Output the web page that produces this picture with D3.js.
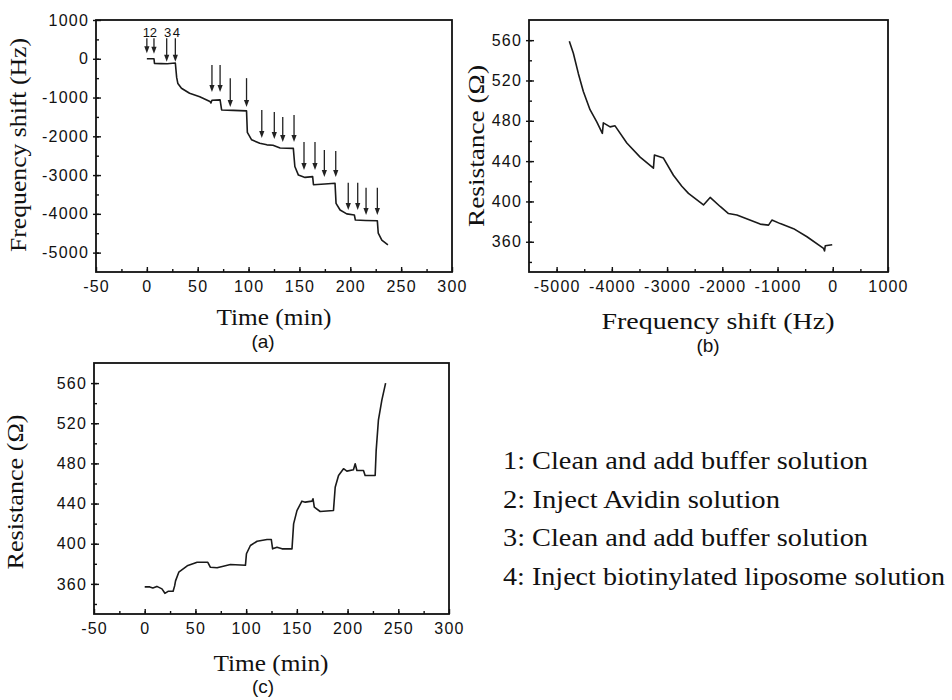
<!DOCTYPE html>
<html>
<head>
<meta charset="utf-8">
<script src="https://cdn.jsdelivr.net/npm/d3@7"></script>
<style>
  body { margin: 0; background: #fff; }
  .tick text { font-family: "Liberation Sans", Arial, sans-serif; font-size: 16px; letter-spacing: 1.2px; fill: #111; }
  .serif { font-family: "Liberation Serif", "Times New Roman", serif; fill: #111; }
  .sans { font-family: "Liberation Sans", Arial, sans-serif; fill: #111; }
</style>
</head>
<body>
<svg id="chart" width="952" height="700"></svg>
<script>
// (a) frequency shift vs time
const freqTime = [0, 7, 7.5, 14, 20, 28, 29.3, 30.5, 34, 42, 52, 62, 63, 64, 72, 73.5, 85, 98, 98.8, 103, 111, 118, 124, 131, 144, 145.5, 149, 155.5, 163, 163.8, 175, 185, 186, 190, 196.5, 204, 205, 215, 226.6, 227.5, 231, 237];
const freqShift = [0, 0, -120, -125, -130, -110, -480, -640, -760, -890, -980, -1100, -1140, -1070, -1060, -1320, -1330, -1345, -1900, -2090, -2180, -2220, -2230, -2300, -2310, -2780, -3000, -3060, -3040, -3250, -3230, -3210, -3730, -3900, -4000, -4030, -4160, -4170, -4180, -4500, -4680, -4800];

// injection arrows in (a)
const arrowTime = [0, 7, 19.5, 28, 64, 72, 82, 98, 113, 125.3, 133.6, 144.7, 154.5, 165.3, 174.5, 185.7, 198, 207.3, 215.5, 226.6];
const arrowTop = [530, 530, 530, 530, -160, -160, -500, -500, -1320, -1370, -1500, -1450, -2150, -2150, -2350, -2380, -3200, -3200, -3330, -3330];
const arrowBottom = [140, 130, -75, -75, -860, -860, -1245, -1245, -2045, -2070, -2150, -2150, -2870, -2870, -3050, -3050, -3900, -3900, -4030, -4030];
const arrowLabels = ["1", "2", "3", "4"];

// (b) resistance vs frequency shift
const bFreq = [-4770, -4697, -4607, -4516, -4395, -4273, -4172, -4154, -4092, -4032, -3942, -3729, -3488, -3247, -3229, -3066, -2885, -2733, -2613, -2341, -2220, -2039, -1888, -1736, -1314, -1163, -1102, -951, -710, -467, -167, -149, -136, -10];
const bRes = [559, 547, 527, 509, 491, 479, 467.5, 478, 476, 474, 475, 458, 444, 433, 446, 443, 426, 415, 408, 396.5, 404, 395, 388, 386.5, 377.5, 376.5, 381.5, 378, 373, 365, 353.5, 351, 356, 357];

// (c) resistance vs time
const cTime = [0, 5, 8, 12, 15, 17, 19.9, 23, 28, 29.5, 30.4, 33.6, 41.9, 51.7, 62.2, 64.8, 71.4, 84.5, 99.3, 100.3, 104.2, 110.8, 120.6, 124.8, 126.1, 130.4, 135.4, 145.2, 146.8, 150.1, 155, 158.3, 164.9, 165.9, 167.2, 173, 186.1, 187.8, 191.1, 196, 199.3, 205.8, 207.5, 209.2, 215.7, 217.3, 227.2, 228.2, 230.4, 233.8, 237.5];
const cRes = [357, 357, 356, 357.5, 356, 355, 350.6, 352.6, 352.6, 358, 363, 371.6, 378, 381.5, 381.5, 376.5, 376, 379.3, 378.5, 390, 398.2, 402.5, 404.2, 404.2, 394.9, 396.5, 394.9, 394.9, 419.8, 433, 442.4, 441.4, 442.4, 444.8, 436.4, 432.1, 433.1, 456.3, 468, 474.7, 472.3, 473.6, 479.6, 473, 473, 468, 468, 493, 523, 543, 560];

const timeMajor = [-50, 0, 50, 100, 150, 200, 250, 300];
const freqMajor = [-5000, -4000, -3000, -2000, -1000, 0, 1000];
const resMajor = [360, 400, 440, 480, 520, 560];

const legendItems = [
  "1: Clean and add buffer solution",
  "2: Inject Avidin solution",
  "3: Clean and add buffer solution",
  "4: Inject biotinylated liposome solution"
];

const svg = d3.select("#chart");
const plain = d => String(d);

function minorsOf(major, step) {
  let out = [];
  for (let v = major[0] - step; v <= major[major.length - 1] + step; v += step) out.push(v);
  return out;
}

function panel(o) {
  let x = d3.scaleLinear().domain(o.xDomain).range([o.left, o.right]);
  let y = d3.scaleLinear().domain(o.yDomain).range([o.bottom, o.top]);
  let g = svg.append("g");

  let xMin = minorsOf(o.xMajor, o.xStep).filter(v => v > o.xDomain[0] && v < o.xDomain[1]);
  let yMin = minorsOf(o.yMajor, o.yStep).filter(v => v > o.yDomain[0] && v < o.yDomain[1]);

  g.append("g")
    .attr("transform", `translate(0,${o.bottom})`)
    .call(d3.axisBottom(x).tickValues(xMin).tickSizeInner(-3).tickSizeOuter(0).tickFormat(""));
  g.append("g")
    .attr("transform", `translate(0,${o.bottom})`)
    .call(d3.axisBottom(x).tickValues(o.xMajor).tickSizeInner(-5).tickSizeOuter(0).tickPadding(9).tickFormat(plain));
  g.append("g")
    .attr("transform", `translate(${o.left},0)`)
    .call(d3.axisLeft(y).tickValues(yMin).tickSizeInner(-3).tickSizeOuter(0).tickFormat(""));
  let ya = g.append("g")
    .attr("transform", `translate(${o.left},0)`)
    .call(d3.axisLeft(y).tickValues(o.yMajor).tickSizeInner(4).tickSizeOuter(0).tickPadding(3).tickFormat(plain));
  ya.selectAll(".tick line").attr("x2", 5).attr("x1", -3);

  g.selectAll(".domain").remove();
  g.selectAll(".tick line").attr("stroke", "#111").attr("stroke-width", 1.4);

  g.append("rect")
    .attr("x", o.left).attr("y", o.top)
    .attr("width", o.right - o.left).attr("height", o.bottom - o.top)
    .attr("fill", "none").attr("stroke", "#111").attr("stroke-width", 1.8);

  g.append("path")
    .datum(d3.zip(o.xs, o.ys))
    .attr("fill", "none")
    .attr("stroke", "#1a1a1a")
    .attr("stroke-width", 1.6)
    .attr("stroke-linejoin", "round")
    .attr("d", d3.line().x(d => x(d[0])).y(d => y(d[1])));

  return { g, x, y };
}

// (a)
let pa = panel({
  left: 96, right: 452, top: 20, bottom: 272,
  xDomain: [-50, 300], yDomain: [-5500, 1000],
  xMajor: timeMajor, xStep: 25, yMajor: freqMajor, yStep: 500,
  xs: freqTime, ys: freqShift
});

arrowTime.forEach((t, i) => {
  let ax = pa.x(t), y0 = pa.y(arrowTop[i]), y1 = pa.y(arrowBottom[i]);
  pa.g.append("line")
    .attr("x1", ax).attr("x2", ax).attr("y1", y0).attr("y2", y1 - 5)
    .attr("stroke", "#222").attr("stroke-width", 1.3);
  pa.g.append("path")
    .attr("d", `M${ax - 2.6},${y1 - 7}L${ax + 2.6},${y1 - 7}L${ax},${y1}Z`)
    .attr("fill", "#222");
});
pa.g.selectAll(".alabel")
  .data(arrowLabels)
  .enter().append("text")
    .attr("class", "sans alabel")
    .attr("x", (d, i) => pa.x(arrowTime[i]) + (i < 2 ? -0.5 : 1))
    .attr("y", (d, i) => pa.y(arrowTop[i]) - 1)
    .attr("text-anchor", "middle")
    .attr("font-size", 13)
    .text(d => d);

// (b)
panel({
  left: 529, right: 888, top: 20, bottom: 272,
  xDomain: [-5500, 1000], yDomain: [330, 580],
  xMajor: freqMajor, xStep: 500, yMajor: resMajor, yStep: 20,
  xs: bFreq, ys: bRes
});

// (c)
panel({
  left: 94, right: 449, top: 363, bottom: 614,
  xDomain: [-50, 300], yDomain: [330, 580],
  xMajor: timeMajor, xStep: 25, yMajor: resMajor, yStep: 20,
  xs: cTime, ys: cRes
});

// axis titles
function title(txt, x, y, len, size, rotate, cls) {
  let t = svg.append("text")
    .attr("class", cls || "serif")
    .attr("text-anchor", "middle")
    .attr("font-size", size)
    .text(txt);
  if (rotate) t.attr("transform", `translate(${x},${y}) rotate(-90)`);
  else t.attr("x", x).attr("y", y);
  if (len) t.attr("textLength", len).attr("lengthAdjust", "spacingAndGlyphs");
  return t;
}

title("Frequency shift (Hz)", 26, 145, 214, 23, true);
title("Time (min)", 274, 325, 115, 23);
title("(a)", 263, 348, null, 19, false, "sans");

title("Resistance (\u03A9)", 484, 146, 162, 23, true);
title("Frequency shift (Hz)", 718, 329, 233, 23);
title("(b)", 708, 352, null, 19, false, "sans");

title("Resistance (\u03A9)", 23, 492, 155, 23, true);
title("Time (min)", 271, 671, 115, 23);
title("(c)", 263, 693, null, 19, false, "sans");

// legend
const legendLen = [365, 277, 365, 442];
svg.selectAll(".legend")
  .data(legendItems)
  .enter().append("text")
    .attr("class", "serif legend")
    .attr("x", 503)
    .attr("y", (d, i) => 469 + i * 38.5)
    .attr("font-size", 26)
    .attr("textLength", (d, i) => legendLen[i])
    .attr("lengthAdjust", "spacingAndGlyphs")
    .text(d => d);
</script>
</body>
</html>
